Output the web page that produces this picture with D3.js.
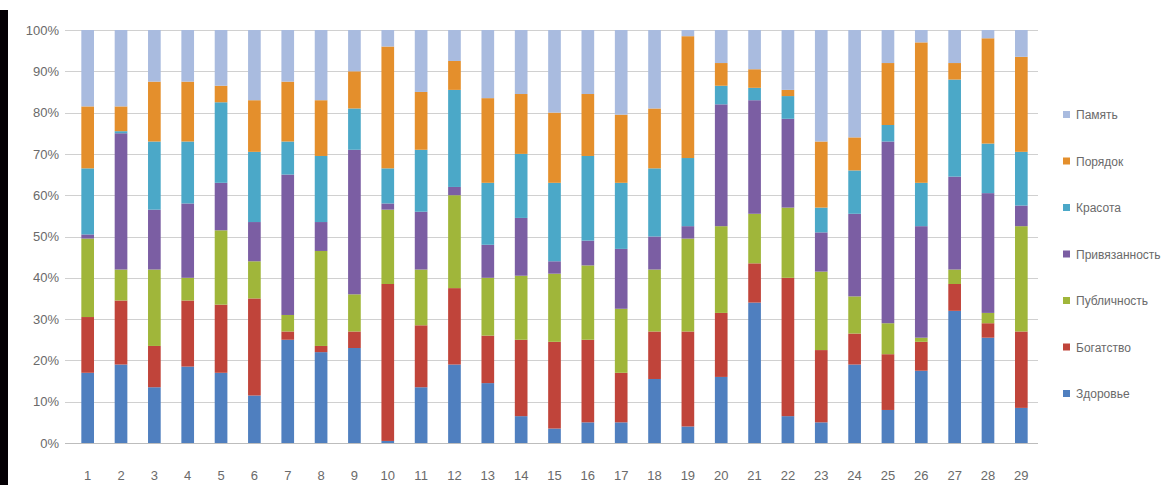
<!DOCTYPE html>
<html>
<head>
<meta charset="utf-8">
<script src="https://cdn.jsdelivr.net/npm/d3@7"></script>
<style>
  body { margin: 0; background: #fff; }
  svg text { font-family: "Liberation Sans", Arial, sans-serif; }
</style>
</head>
<body>
<div id="chart"></div>
<script>
var categories = ["1","2","3","4","5","6","7","8","9","10","11","12","13","14","15","16","17","18","19","20","21","22","23","24","25","26","27","28","29"];

var seriesNames = ["Здоровье", "Богатство", "Публичность", "Привязанность", "Красота", "Порядок", "Память"];

var zdorovye      = [17, 19, 13.5, 18.5, 17, 11.5, 25, 22, 23, 0.5, 13.5, 19, 14.5, 6.5, 3.5, 5, 5, 15.5, 4, 16, 34, 6.5, 5, 19, 8, 17.5, 32, 25.5, 8.5];
var bogatstvo     = [13.5, 15.5, 10, 16, 16.5, 23.5, 2, 1.5, 4, 38, 15, 18.5, 11.5, 18.5, 21, 20, 12, 11.5, 23, 15.5, 9.5, 33.5, 17.5, 7.5, 13.5, 7, 6.5, 3.5, 18.5];
var publichnost   = [19, 7.5, 18.5, 5.5, 18, 9, 4, 23, 9, 18, 13.5, 22.5, 14, 15.5, 16.5, 18, 15.5, 15, 22.5, 21, 12, 17, 19, 9, 7.5, 1, 3.5, 2.5, 25.5];
var privyazannost = [1, 33, 14.5, 18, 11.5, 9.5, 34, 7, 35, 1.5, 14, 2, 8, 14, 3, 6, 14.5, 8, 3, 29.5, 27.5, 21.5, 9.5, 20, 44, 27, 22.5, 29, 5];
var krasota       = [16, 0.5, 16.5, 15, 19.5, 17, 8, 16, 10, 8.5, 15, 23.5, 15, 15.5, 19, 20.5, 16, 16.5, 16.5, 4.5, 3, 5.5, 6, 10.5, 4, 10.5, 23.5, 12, 13];
var poryadok      = [15, 6, 14.5, 14.5, 4, 12.5, 14.5, 13.5, 9, 29.5, 14, 7, 20.5, 14.5, 17, 15, 16.5, 14.5, 29.5, 5.5, 4.5, 1.5, 16, 8, 15, 34, 4, 25.5, 23];
var pamyat        = [18.5, 18.5, 12.5, 12.5, 13.5, 17, 12.5, 17, 10, 4, 15, 7.5, 16.5, 15.5, 20, 15.5, 20.5, 19, 1.5, 8, 9.5, 14.5, 27, 26, 8, 3, 8, 2, 6.5];

var yTicks = [0, 0.1, 0.2, 0.3, 0.4, 0.5, 0.6, 0.7, 0.8, 0.9, 1];

var colors = ["#4f7fbf", "#c0443a", "#a0b63a", "#7b5ea3", "#4ba8c8", "#e48f2c", "#a9bbdf"];

function init() {
    var w = 1166, h = 485;
    var left = 71, right = 1038, top = 30, bottom = 443;

    var columns = [zdorovye, bogatstvo, publichnost, privyazannost, krasota, poryadok, pamyat];
    var table = categories.map(function(c, i) {
        var row = { cat: c };
        seriesNames.forEach(function(s, k) { row[s] = columns[k][i]; });
        return row;
    });

    var stack = d3.stack()
                  .keys(seriesNames)
                  .offset(d3.stackOffsetExpand);
    var series = stack(table);

    var xScale = d3.scaleBand()
                   .domain(categories)
                   .range([left, right])
                   .paddingInner(0.62)
                   .paddingOuter(0.31);

    var yScale = d3.scaleLinear()
                   .domain([0, 1])
                   .range([bottom, top]);

    var svg = d3.select("#chart")
                .append("svg")
                .attr("width", w)
                .attr("height", h);

    // black strip on left edge
    svg.append("rect")
       .attr("x", 0).attr("y", 10)
       .attr("width", 8).attr("height", h - 10)
       .attr("fill", "#050005");

    // gridlines
    svg.append("g")
       .selectAll("line")
       .data(yTicks)
       .enter()
       .append("line")
       .attr("x1", 65)
       .attr("x2", right)
       .attr("y1", function(d) { return Math.round(yScale(d)) + 0.5; })
       .attr("y2", function(d) { return Math.round(yScale(d)) + 0.5; })
       .attr("stroke", function(d) { return d === 0 ? "#bdbdbd" : "#d0d0d0"; })
       .attr("stroke-width", 1);

    // y axis labels
    var yAxis = d3.axisLeft(yScale)
                  .tickValues(yTicks)
                  .tickFormat(d3.format(".0%"))
                  .tickSize(0)
                  .tickPadding(0);
    var gy = svg.append("g")
                .attr("transform", "translate(59,0)")
                .call(yAxis);
    gy.select(".domain").remove();
    gy.selectAll("text")
      .attr("fill", "#6a6a6a")
      .style("font-size", "13px");

    // bars
    var groups = svg.selectAll("g.series")
                    .data(series)
                    .enter()
                    .append("g")
                    .attr("class", "series")
                    .attr("fill", function(d, i) { return colors[i]; });

    groups.selectAll("rect")
          .data(function(d) { return d; })
          .enter()
          .append("rect")
          .attr("x", function(d) { return xScale(d.data.cat); })
          .attr("y", function(d) { return yScale(d[1]); })
          .attr("height", function(d) { return yScale(d[0]) - yScale(d[1]); })
          .attr("width", xScale.bandwidth());

    // x axis labels
    var xAxis = d3.axisBottom(xScale).tickSize(0).tickPadding(0);
    var gx = svg.append("g")
                .attr("transform", "translate(0,471)")
                .call(xAxis);
    gx.select(".domain").remove();
    gx.selectAll("text")
      .attr("fill", "#6a6a6a")
      .style("font-size", "13px");

    // legend
    var legendNames = seriesNames.slice().reverse();
    var legendColors = colors.slice().reverse();
    var legend = svg.append("g");

    legend.selectAll("rect")
          .data(legendNames)
          .enter()
          .append("rect")
          .attr("x", 1063)
          .attr("y", function(d, i) { return 111 + i * 46.5; })
          .attr("width", 7)
          .attr("height", 7)
          .attr("fill", function(d, i) { return legendColors[i]; });

    legend.selectAll("text")
          .data(legendNames)
          .enter()
          .append("text")
          .attr("x", 1076)
          .attr("y", function(d, i) { return 115 + i * 46.5; })
          .attr("dy", "0.35em")
          .attr("fill", "#6a6a6a")
          .style("font-size", "12px")
          .style("font-family", "'Liberation Sans Narrow', 'Liberation Sans', sans-serif")
          .text(function(d) { return d; });
}
window.onload = init;
</script>
</body>
</html>
